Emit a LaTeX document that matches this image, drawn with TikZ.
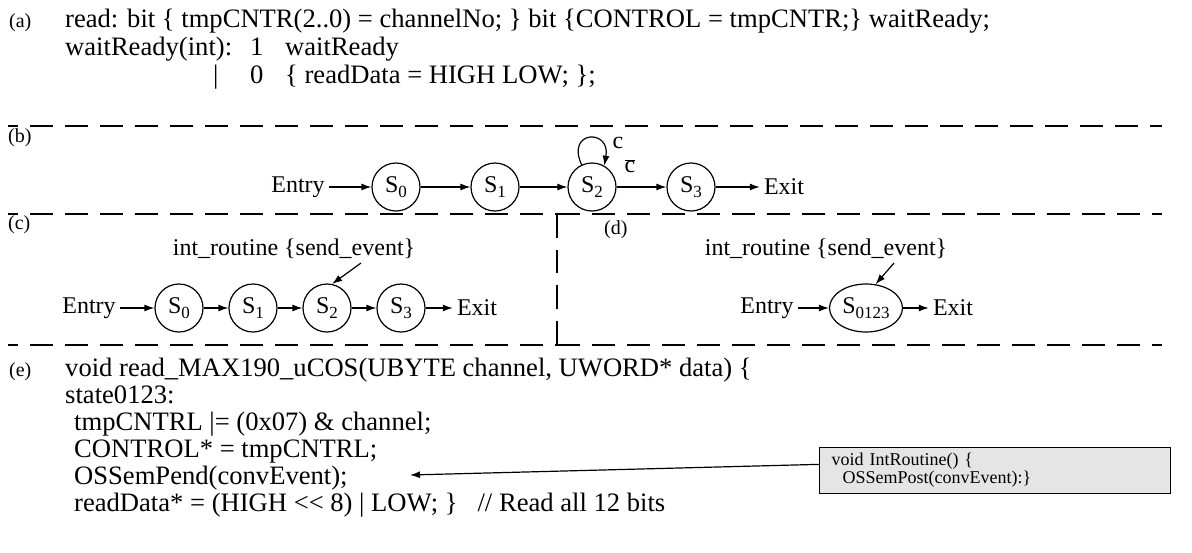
\documentclass[tikz,border=0pt]{standalone}
\usepackage{fontspec}
\setmainfont{Liberation Serif}
\usetikzlibrary{arrows.meta,shapes.geometric}
\newcommand\mysub[1]{\raisebox{-5pt}{\fontsize{17}{17}\selectfont #1}}
\begin{document}
\begin{tikzpicture}[x=1pt,y=-1pt,
  lbl/.style={font=\fontsize{20}{20}\selectfont, inner sep=0pt},
  code/.style={font=\fontsize{26.6}{26.6}\selectfont, inner sep=0pt, anchor=base west},
  txt/.style={font=\fontsize{24}{24}\selectfont, inner sep=1pt},
  endtxt/.style={font=\fontsize{24}{24}\selectfont, inner xsep=4pt, inner ysep=1pt},
  state/.style={draw, circle, minimum size=48pt, inner sep=0pt, line width=1.2pt, font=\fontsize{24}{24}\selectfont},
  estate/.style={draw, ellipse, minimum width=73pt, minimum height=48pt, inner sep=0pt, line width=1.2pt, font=\fontsize{24}{24}\selectfont},
  sep/.style={line width=1.6pt, dash pattern=on 23pt off 12pt},
  vsep/.style={line width=1.6pt, dash pattern=on 23.5pt off 12pt},
  arr/.style={-{Latex[length=10pt,width=7pt]}, line width=1.2pt},
  codebox/.style={draw, fill=gray!20, line width=1pt, inner xsep=12pt, align=left, font=\fontsize{18}{18}\selectfont}
]
\useasboundingbox (0,0) rectangle (1192,552);

% separators
\draw[sep, dash phase=13pt] (8,126) -- (1162,126);
\draw[sep, dash phase=13pt] (8,214) -- (557,214);
\draw[sep] (557,214) -- (1162,214);
\draw[sep, dash phase=13pt] (8,345) -- (557,345);
\draw[sep] (557,345) -- (1162,345);
\draw[vsep] (557,214) -- (557,345);

% (a)
\node[lbl, anchor=base west] (la) at (9,27) {(a)};
\node[code] (a1) at (65,27) {read: bit \{ tmpCNTR(2..0) = channelNo; \} bit \{CONTROL = tmpCNTR;\} waitReady;};
\node[code] (a2a) at (65,55) {waitReady(int):};
\node[code] (a2b) at (250,55) {1};
\node[code] (a2c) at (285,55) {waitReady};
\node[code] (a3a) at (213,83) {|};
\node[code] (a3b) at (250,83) {0};
\node[code] (a3c) at (285,83) {\{ readData = HIGH LOW; \};};

% (b)
\node[lbl, anchor=west] (lb) at (8,138) {(b)};
\node[endtxt] (bE) at (298,187) {Entry};
\node[state] (b0) at (396,187) {S\mysub{0}};
\node[state] (b1) at (495,187) {S\mysub{1}};
\node[state] (b2) at (592,187) {S\mysub{2}};
\node[state] (b3) at (691,187) {S\mysub{3}};
\node[endtxt] (bX) at (784,187) {Exit};
\draw[arr] (bE) -- (b0);
\draw[arr] (b0) -- (b1);
\draw[arr] (b1) -- (b2);
\draw[arr] (b2) -- (b3);
\draw[arr] (b3) -- (bX);
\draw[arr] (b2.115) .. controls +(-115:38) and +(-80:38) .. (b2.60);
\node[txt] (bc) at (618,143) {c};
\node[txt] (bcb) at (630,166) {$\overline{\mbox{c}}$};

% (c)
\node[lbl, anchor=west] (lc) at (8,225) {(c)};
\node[txt] (ci) at (294,249) {int\_routine \{send\_event\}};
\node[endtxt] (cE) at (89,308) {Entry};
\node[state] (c0) at (179,308) {S\mysub{0}};
\node[state] (c1) at (253,308) {S\mysub{1}};
\node[state] (c2) at (327,308) {S\mysub{2}};
\node[state] (c3) at (401,308) {S\mysub{3}};
\node[endtxt] (cX) at (477,308) {Exit};
\draw[arr] (cE) -- (c0);
\draw[arr] (c0) -- (c1);
\draw[arr] (c1) -- (c2);
\draw[arr] (c2) -- (c3);
\draw[arr] (c3) -- (cX);
\coordinate (cis) at (361,263);
\draw[arr] (cis) -- (c2.78);

% (d)
\node[lbl, anchor=west] (ld) at (604,230) {(d)};
\node[txt] (di) at (826,249) {int\_routine \{send\_event\}};
\node[endtxt] (dE) at (767,308) {Entry};
\node[estate] (d0) at (866,308) {S\mysub{0123}};
\node[endtxt] (dX) at (953,308) {Exit};
\draw[arr] (dE) -- (d0);
\draw[arr] (d0) -- (dX);
\coordinate (dis) at (894,263);
\draw[arr] (dis) -- (d0.68);

% (e)
\node[lbl, anchor=base west] (le) at (9,376) {(e)};
\node[code] (e1) at (65,376) {void read\_MAX190\_uCOS(UBYTE channel, UWORD* data) \{};
\node[code] (e2) at (65,403) {state0123:};
\node[code] (e3) at (74,430) {tmpCNTRL |= (0x07) \& channel;};
\node[code] (e4) at (74,457) {CONTROL* = tmpCNTRL;};
\node[code] (e5) at (74,484) {OSSemPend(convEvent);};
\node[code] (e6) at (74,511) {readData* = (HIGH <{}< 8) | LOW; \}\hspace{20pt}// Read all 12 bits};

\node[codebox, anchor=north west, minimum width=351pt, minimum height=46pt, text width=327pt] (ir) at (819,447) {void IntRoutine() \{\\\hspace*{11pt}OSSemPost(convEvent):\}};
\coordinate (pendtip) at (410,475);
\draw[arr] (ir.178) -- (pendtip);
\end{tikzpicture}
\end{document}
